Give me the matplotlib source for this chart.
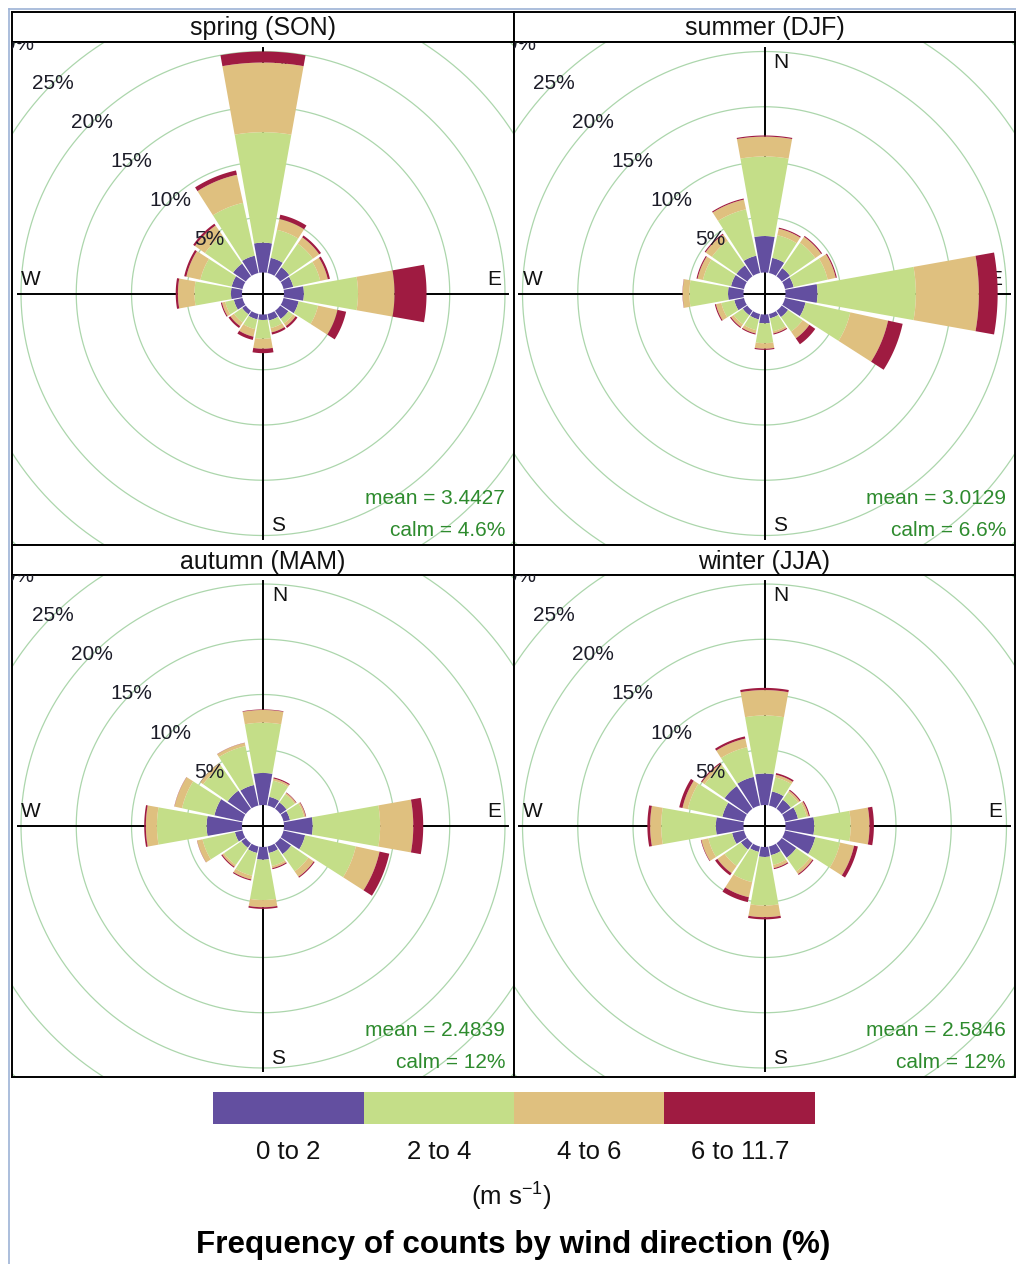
import numpy as np
import matplotlib
matplotlib.use("Agg")
import matplotlib.pyplot as plt
from matplotlib.patches import Rectangle
from matplotlib.lines import Line2D

plt.rcParams['font.family'] = ['Liberation Sans', 'DejaVu Sans']
plt.rcParams['mathtext.default'] = 'regular'

# ---------------------------------------------------------------- data
directions = np.arange(0, 360, 22.5)          # 16 sectors, degrees from north
speed_bins = ["0 to 2", "2 to 4", "4 to 6", "6 to 11.7"]
bin_colours = ["#634fa0", "#c4de88", "#dfc07f", "#9f1b41"]

# frequency (%) of each speed bin per direction sector (rows: speed bins)
spring = [
    [2.7, 1.4, 1.0, 0.9, 1.8, 1.4, 0.9, 0.6, 0.5, 0.5, 0.4, 0.8, 1.0, 1.0, 1.4, 1.6],
    [10.0, 2.6, 2.6, 2.5, 4.9, 1.8, 0.5, 0.7, 1.7, 0.9, 0.9, 0.8, 3.3, 2.9, 3.1, 4.9],
    [6.3, 1.0, 0.7, 0.7, 3.3, 1.8, 0.3, 0.4, 0.9, 0.7, 0.4, 0.3, 1.5, 1.3, 1.1, 2.6],
    [1.0, 0.4, 0.2, 0.2, 2.9, 0.8, 0.2, 0.2, 0.4, 0.3, 0.2, 0.1, 0.2, 0.2, 0.2, 0.4],
]
summer = [
    [3.3, 1.4, 0.9, 0.8, 2.9, 1.9, 0.7, 0.4, 0.8, 0.5, 0.5, 0.9, 1.4, 1.2, 1.2, 1.6],
    [7.2, 2.1, 2.8, 3.15, 8.9, 4.15, 1.6, 1.2, 1.8, 1.0, 1.0, 1.2, 3.5, 2.6, 2.7, 4.3],
    [1.8, 0.6, 0.65, 0.75, 5.7, 3.5, 0.75, 0.2, 0.5, 0.3, 0.3, 0.5, 0.6, 0.5, 0.7, 0.9],
    [0.1, 0.1, 0.1, 0.1, 1.7, 1.35, 0.65, 0.1, 0.1, 0.1, 0.1, 0.1, 0.02, 0.1, 0.1, 0.1],
]
autumn = [
    [2.9, 0.8, 0.7, 0.6, 2.6, 2.0, 1.2, 0.6, 1.15, 0.6, 0.5, 0.7, 3.2, 2.6, 2.0, 1.9],
    [4.55, 1.5, 0.9, 1.3, 6.1, 4.7, 1.9, 1.2, 3.65, 2.1, 1.9, 3.0, 4.5, 3.0, 2.7, 3.6],
    [1.15, 0.2, 0.15, 0.15, 3.0, 2.2, 0.6, 0.2, 0.65, 0.35, 0.2, 0.5, 1.0, 0.7, 0.3, 0.3],
    [0.05, 0.1, 0.05, 0.05, 0.9, 0.9, 0.1, 0.1, 0.15, 0.1, 0.1, 0.02, 0.15, 0.02, 0.02, 0.02],
]
winter = [
    [2.85, 1.3, 1.0, 1.2, 2.6, 2.8, 1.6, 0.8, 0.9, 0.5, 0.7, 1.1, 2.5, 2.0, 2.5, 2.65],
    [5.25, 1.3, 0.8, 0.8, 3.3, 2.3, 1.5, 0.9, 4.4, 2.8, 1.8, 2.2, 4.95, 3.2, 2.2, 2.75],
    [2.3, 0.25, 0.2, 0.2, 1.7, 1.3, 0.3, 0.3, 1.05, 1.4, 0.8, 0.65, 1.0, 0.5, 0.3, 0.8],
    [0.2, 0.15, 0.1, 0.1, 0.4, 0.35, 0.1, 0.1, 0.2, 0.45, 0.25, 0.05, 0.25, 0.3, 0.1, 0.2],
]

season_titles = ["spring (SON)", "summer (DJF)", "autumn (MAM)", "winter (JJA)"]
season_means = ["3.4427", "3.0129", "2.4839", "2.5846"]
season_calms = ["4.6%", "6.6%", "12%", "12%"]
season_data = [spring, summer, autumn, winter]

ring_steps = [5, 10, 15, 20, 25, 30]

# ---------------------------------------------------------------- layout
W_PX, H_PX = 1016, 1264
PX_PER_PCT = 11.05      # radial scale of the roses
OFFSET = 1.9            # empty centre (calm) radius, in % units
SEG = 0.9               # fraction of each sector filled by its wedge
AXIS_LEN = 22.2

fig = plt.figure(figsize=(W_PX / 100, H_PX / 100), dpi=100)


def fig_rect(x0, y0, x1, y1):
    """Pixel box (origin top-left) -> figure-fraction rectangle."""
    return [x0 / W_PX, 1 - y1 / H_PX, (x1 - x0) / W_PX, (y1 - y0) / H_PX]


columns = [(12, 514), (514, 1015)]
rows = [(12, 42, 545), (545, 575, 1077)]   # strip top, plot top, plot bottom

ring_theta = np.linspace(0, 2 * np.pi, 400)

for idx, (title, data, mean, calm) in enumerate(
        zip(season_titles, season_data, season_means, season_calms)):
    x0, x1 = columns[idx % 2]
    s0, p0, p1 = rows[idx // 2]

    # strip with the season name
    sax = fig.add_axes(fig_rect(x0, s0, x1, p0))
    sax.set_xticks([]); sax.set_yticks([])
    for sp in sax.spines.values():
        sp.set_linewidth(1.4); sp.set_color("black")
    sax.text(0.5, 0.45, title, transform=sax.transAxes, ha="center",
             va="center", fontsize=18, color="#111111")

    # rose panel
    ax = fig.add_axes(fig_rect(x0, p0, x1, p1))
    hw = (x1 - x0) / 2 / PX_PER_PCT
    hh = (p1 - p0) / 2 / PX_PER_PCT
    ax.set_xlim(-hw, hw); ax.set_ylim(-hh, hh)
    ax.set_xticks([]); ax.set_yticks([])
    for sp in ax.spines.values():
        sp.set_linewidth(1.4); sp.set_color("black")

    # grid rings
    for p in ring_steps:
        r = OFFSET + p
        ax.plot(r * np.sin(ring_theta), r * np.cos(ring_theta),
                color="#acd6ac", lw=0.9, zorder=1)

    # compass axes and labels
    ax.plot([0, 0], [-AXIS_LEN, AXIS_LEN], color="black", lw=1.4, zorder=1.2)
    ax.plot([-AXIS_LEN, AXIS_LEN], [0, 0], color="black", lw=1.4, zorder=1.2)
    lab_kw = dict(fontsize=15, ha="center", va="center", color="#111111", zorder=1.3)
    ax.text(1.5, 20.9, "N", **lab_kw)
    ax.text(1.4, -21.0, "S", **lab_kw)
    ax.text(20.9, 1.3, "E", **lab_kw)
    ax.text(-21.0, 1.3, "W", **lab_kw)

    # stacked wedges
    cum = np.cumsum(np.array(data), axis=0)
    half = SEG * 22.5 / 2
    for j, d in enumerate(directions):
        th = np.radians(np.linspace(d - half, d + half, 40))
        inner = 0.0
        for k in range(len(speed_bins)):
            outer = cum[k, j]
            r_in, r_out = OFFSET + inner, OFFSET + outer
            xs = np.concatenate([r_out * np.sin(th), r_in * np.sin(th[::-1])])
            ys = np.concatenate([r_out * np.cos(th), r_in * np.cos(th[::-1])])
            ax.fill(xs, ys, color=bin_colours[k], lw=0, zorder=2)
            inner = outer

    # ring labels along the north-west diagonal
    for p in ring_steps:
        r = (OFFSET + p) / np.sqrt(2)
        ax.text(-r, r, f"{p}%", fontsize=15, ha="center", va="center",
                color="#1c1c28", zorder=3, clip_on=True)

    # summary statistics
    w = x1 - x0
    h = p1 - p0
    ax.text(1 - 9 / w, 47 / h, f"mean = {mean}", transform=ax.transAxes,
            ha="right", va="center", fontsize=15, color="#2e8b2e", zorder=3)
    ax.text(1 - 9 / w, 15 / h, f"calm = {calm}", transform=ax.transAxes,
            ha="right", va="center", fontsize=15, color="#2e8b2e", zorder=3)

# ---------------------------------------------------------------- key
kax = fig.add_axes(fig_rect(213, 1092, 815, 1124))
kax.set_xlim(0, len(speed_bins)); kax.set_ylim(0, 1)
kax.axis("off")
for i, c in enumerate(bin_colours):
    kax.add_patch(Rectangle((i, 0), 1, 1, color=c, lw=0))
box_w = (815 - 213) / len(speed_bins)
for i, lab in enumerate(speed_bins):
    fig.text((213 + (i + 0.5) * box_w) / W_PX, 1 - 1152 / H_PX, lab,
             ha="center", va="center", fontsize=18.5, color="#111111")
fig.text(511 / W_PX, 1 - 1197 / H_PX, "(m s$^{-1}$)", ha="center",
         va="center", fontsize=18.5, color="#111111")
fig.text(513 / W_PX, 1 - 1245 / H_PX, "Frequency of counts by wind direction (%)",
         ha="center", va="center", fontsize=22.6, fontweight="bold", color="#000000")

# window frame
fig.add_artist(Line2D([9 / W_PX, 9 / W_PX], [0, 1 - 9 / H_PX],
                      transform=fig.transFigure, color="#9db3d6", lw=1.2))
fig.add_artist(Line2D([9 / W_PX, 1], [1 - 9 / H_PX, 1 - 9 / H_PX],
                      transform=fig.transFigure, color="#9db3d6", lw=1.2))

fig.savefig("out.png", dpi=100, facecolor="white")
